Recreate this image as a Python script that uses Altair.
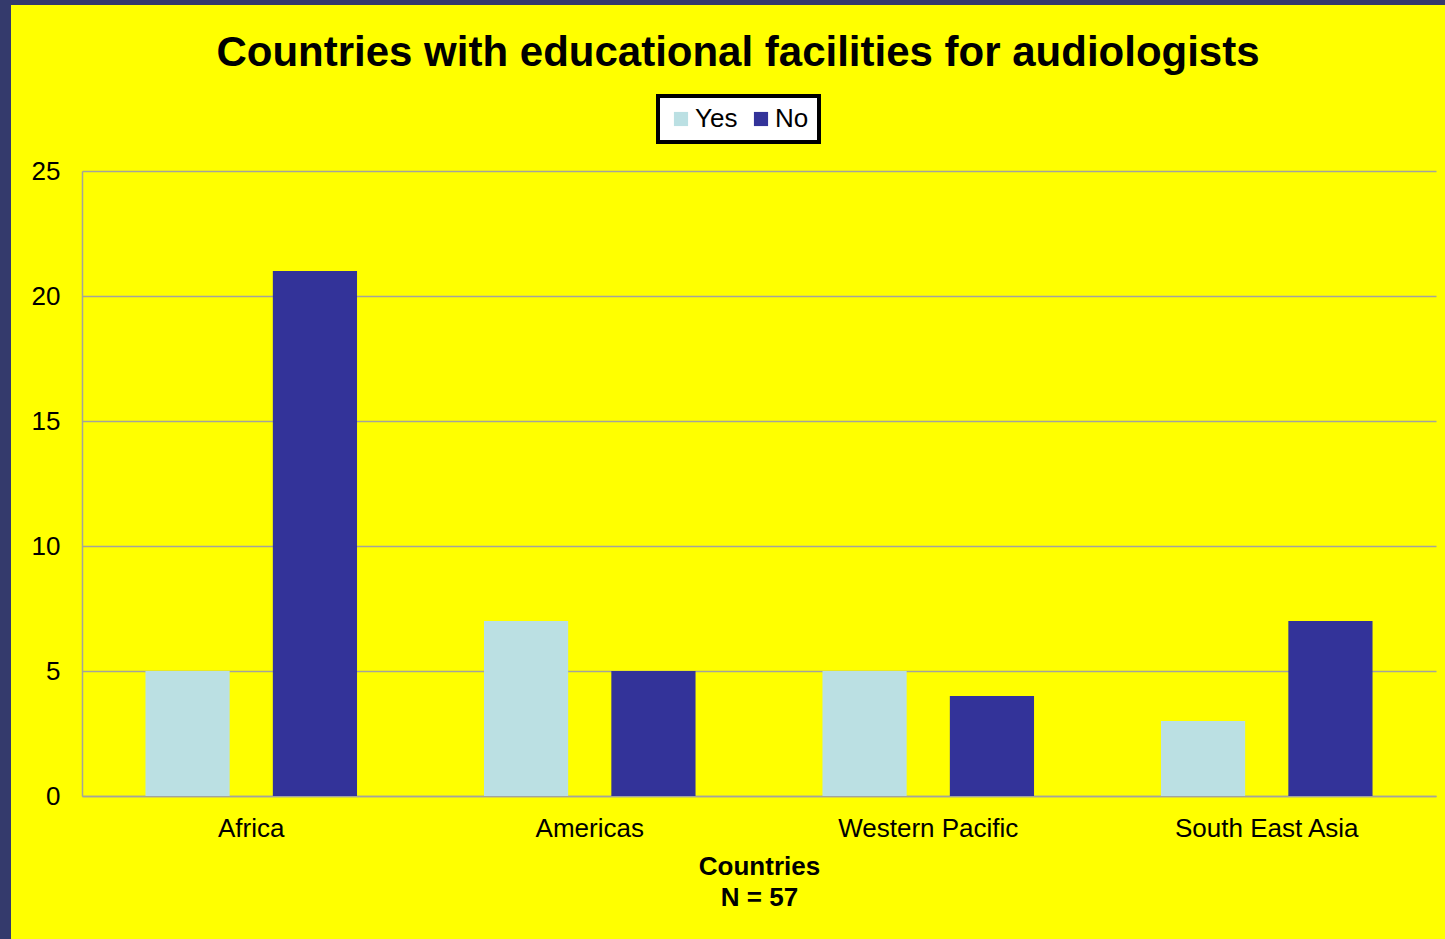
import altair as alt
import pandas as pd

title_text = "Countries with educational facilities for audiologists"
regions = ["Africa", "Americas", "Western Pacific", "South East Asia"]
answers = ["Yes", "No"]
yes_values = [5, 7, 5, 3]
no_values = [21, 5, 4, 7]
y_ticks = [0, 5, 10, 15, 20, 25]

rows = []
for r, yv, nv in zip(regions, yes_values, no_values):
    rows.append({"region": r, "answer": "Yes", "count": yv})
    rows.append({"region": r, "answer": "No", "count": nv})
df = pd.DataFrame(rows)

YELLOW = "#FFFF00"
NAVY = "#343A6C"
YES_C = "#BBE0E3"
NO_C = "#333399"
GRID = "#A4A49C"
FONT = "Liberation Sans"

W, H = 1354, 625
PAD_L, PAD_T = 82, 171

bars = alt.Chart(df).mark_bar().encode(
    x=alt.X(
        "region:N",
        sort=regions,
        scale=alt.Scale(paddingInner=0.375, paddingOuter=0.1875),
        axis=alt.Axis(
            title=["Countries", "N = 57"],
            labelAngle=0,
            labelFontSize=26,
            labelFont=FONT,
            labelColor="black",
            labelPadding=19,
            labelLimit=0,
            ticks=False,
            domainColor=GRID,
            domainWidth=1.5,
            titleFontSize=26,
            titleFont=FONT,
            titleFontWeight="bold",
            titleColor="black",
            titlePadding=12,
            titleLineHeight=31,
        ),
    ),
    xOffset=alt.XOffset(
        "answer:N",
        sort=answers,
        scale=alt.Scale(paddingInner=0.339, paddingOuter=0),
    ),
    y=alt.Y(
        "count:Q",
        scale=alt.Scale(domain=[0, 25], nice=False),
        axis=alt.Axis(
            title=None,
            values=y_ticks,
            labelFontSize=26,
            labelFont=FONT,
            labelColor="black",
            labelPadding=22,
            ticks=False,
            grid=True,
            gridColor=GRID,
            gridWidth=1.5,
            domainColor=GRID,
            domainWidth=1.5,
        ),
    ),
    color=alt.Color(
        "answer:N",
        sort=answers,
        scale=alt.Scale(domain=answers, range=[YES_C, NO_C]),
        legend=alt.Legend(
            title=None,
            orient="none",
            legendX=576,
            legendY=-75,
            direction="horizontal",
            fillColor="white",
            strokeColor="black",
            padding=10,
            symbolType="square",
            symbolSize=200,
            symbolStrokeWidth=0,
            labelFontSize=26,
            labelFont=FONT,
            labelColor="black",
            labelOffset=1,
            columnPadding=10,
        ),
    ),
)

frame_df = pd.DataFrame({"k": [0]})
left_strip = alt.Chart(frame_df).mark_rect(color=NAVY, clip=False).encode(
    x=alt.value(-PAD_L), x2=alt.value(-PAD_L + 11),
    y=alt.value(-PAD_T), y2=alt.value(939 - PAD_T),
)
top_strip = alt.Chart(frame_df).mark_rect(color=NAVY, clip=False).encode(
    x=alt.value(-PAD_L), x2=alt.value(1445 - PAD_L),
    y=alt.value(-PAD_T), y2=alt.value(-PAD_T + 5),
)

title_df = pd.DataFrame({"t": [title_text]})
title_mark = alt.Chart(title_df).mark_text(
    font=FONT,
    fontSize=42,
    fontWeight="bold",
    color="black",
    align="center",
    baseline="alphabetic",
    clip=False,
).encode(
    text="t:N",
    x=alt.value(W / 2 - 21),
    y=alt.value(-105),
)

chart = alt.layer(bars, left_strip, top_strip, title_mark).properties(
    width=W,
    height=H,
    padding={"left": PAD_L, "top": PAD_T, "right": 1445 - PAD_L - W, "bottom": 939 - PAD_T - H},
    autosize=alt.AutoSizeParams(type="none"),
    background=YELLOW,
).configure_view(stroke=None).configure_legend(strokeWidth=4)

chart.save("out.html", embed_options={"renderer": "svg", "actions": False})
